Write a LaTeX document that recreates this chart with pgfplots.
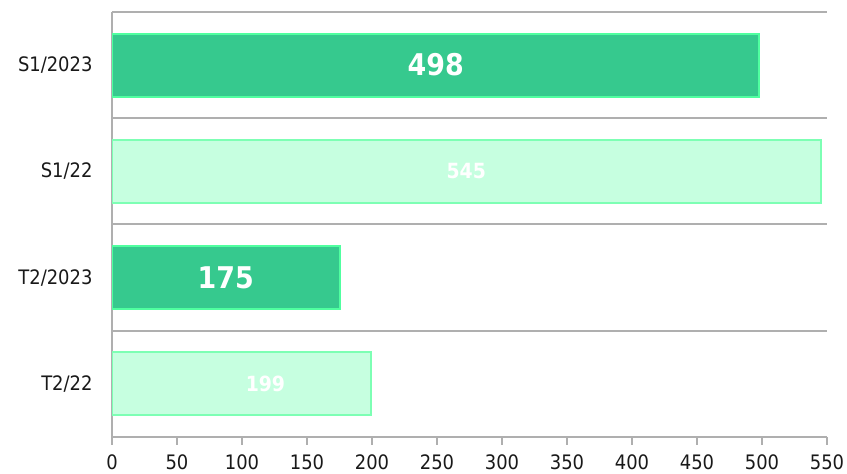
\documentclass[border=0pt]{standalone}
\usepackage{fontspec}
\setmainfont{DejaVu Sans Condensed}
\usepackage{pgfplots}
\pgfplotsset{compat=1.18}
\definecolor{darkbar}{RGB}{54,201,142}
\definecolor{darkedge}{RGB}{80,255,160}
\definecolor{lightbar}{RGB}{198,255,224}
\definecolor{lightedge}{RGB}{125,255,180}
\definecolor{gridgray}{RGB}{175,175,175}
\begin{document}
\begin{tikzpicture}[x=1bp,y=1bp]
\useasboundingbox (0,0) rectangle (847,474);
\begin{axis}[
  at={(112bp,37bp)}, anchor=south west,
  scale only axis, width=715bp, height=425bp,
  xmin=0, xmax=550, ymin=-0.5, ymax=3.5,
  xbar, bar width=63bp, bar shift=0pt,
  axis x line*=bottom, axis y line*=left,
  axis line style={gridgray, line width=2bp},
  xtick={0,50,...,550},
  x tick style={gridgray, line width=2bp},
  major tick length=8bp, tick align=outside,
  ytick={0,1,2,3},
  yticklabels={T2/22,T2/2023,S1/22,S1/2023},
  y tick style={draw=none},
  minor ytick={0.5,1.5,2.5,3.5},
  yminorgrids,
  minor grid style={gridgray, line width=2bp},
  tick label style={font=\fontsize{20}{22}\selectfont, text=black!90},
  xticklabel style={yshift=-6bp},
  yticklabel style={xshift=-8bp},
  /pgf/number format/assume math mode=true,
]
  \addplot[fill=lightbar, draw=lightedge, line width=2bp] coordinates {(199,0) (545,2)};
  \addplot[fill=darkbar, draw=darkedge, line width=2bp] coordinates {(175,1) (498,3)};
  \node[text=white, font=\bfseries\fontsize{30}{30}\selectfont] at (axis cs:249,3) {498};
  \node[text=white, font=\bfseries\fontsize{30}{30}\selectfont] at (axis cs:87.5,1) {175};
  \node[text=white, font=\bfseries\fontsize{21}{22}\selectfont] at (axis cs:272.5,2) {545};
  \node[text=white, font=\bfseries\fontsize{21}{22}\selectfont] at (axis cs:118,0) {199};
\end{axis}
\end{tikzpicture}
\end{document}
